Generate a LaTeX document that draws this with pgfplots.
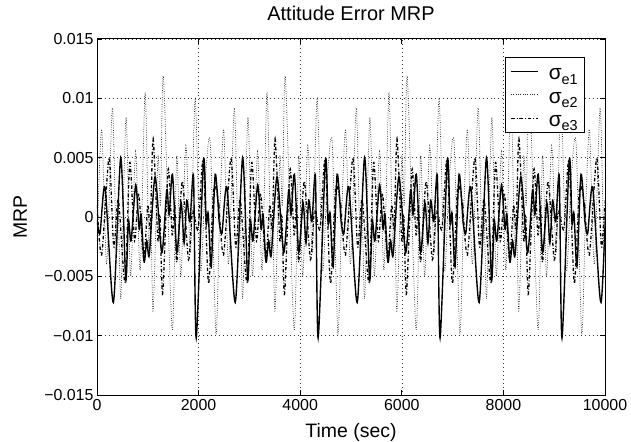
\documentclass[border=0pt]{standalone}
\usepackage{pgfplots}
\pgfplotsset{compat=1.18}
\usepackage{pgfplotstable}
\usepackage{fontspec}
\setmainfont{Liberation Sans}

% one period (2400 s) of each signal; the record repeats with this period
\pgfplotstableread{
t v
0 -0.0002
59 -0.0014
158 0.0025
322 -0.0072
467 0.0050
566 -0.0053
618 -0.0003
671 -0.0020
763 0.0027
830 -0.0010
870 0.0002
927 -0.0038
980 -0.0020
1030 -0.0032
1144 0.0034
1276 -0.0030
1374 0.0023
1420 0.0002
1486 0.0036
1571 -0.0030
1656 0.0012
1715 -0.0022
1768 0.0014
1830 -0.0004
1900 0.0034
1953 -0.0102
2097 0.0048
2150 -0.0005
2190 0.0003
2248 -0.0042
2327 0.0036
2400 -0.0002
}\eone

\pgfplotstableread{
t v
0 -0.0020
92 0.0074
190 -0.0040
303 0.0092
380 -0.0030
420 0.0005
470 -0.0068
572 0.0084
660 -0.0050
760 0.0055
850 -0.0045
947 0.0105
1020 -0.0030
1060 0.0000
1105 -0.0079
1200 0.0050
1250 0.0010
1308 0.0118
1480 -0.0095
1571 0.0052
1650 -0.0050
1750 0.0060
1840 -0.0030
1933 0.0099
2040 -0.0045
2130 0.0030
2229 0.0063
2340 -0.0098
2400 -0.0020
}\etwo

\pgfplotstableread{
t v
0 0.0010
92 -0.0032
237 0.0050
330 -0.0025
420 0.0015
552 -0.0055
645 0.0046
740 -0.0020
820 0.0020
920 -0.0035
1000 0.0010
1050 -0.0010
1105 0.0066
1200 -0.0020
1240 0.0000
1292 -0.0065
1400 0.0040
1480 -0.0015
1530 0.0010
1571 -0.0038
1680 0.0030
1801 -0.0036
1880 0.0005
1990 -0.0010
2090 0.0048
2195 -0.0056
2300 0.0025
2400 0.0010
}\ethree

\tikzset{
  sone/.style={black, line width=1.4pt, solid, smooth, tension=0.45},
  stwo/.style={black!85, line width=0.75pt, dash pattern=on 0.75pt off 1.6pt, smooth, tension=0.45},
  sthree/.style={black, line width=1.3pt, dash pattern=on 3.5pt off 2pt on 0.8pt off 2pt, smooth, tension=0.45},
}

\newcommand{\lsig}[1]{\rule[-9bp]{0pt}{27bp}σ\raisebox{-0.4ex}{\fontsize{14.5}{14.5}\selectfont #1}}

\begin{document}
\begin{tikzpicture}
\begin{axis}[
  name=ax,
  scale only axis,
  width=508bp, height=356bp,
  xmin=0, xmax=10000, ymin=-0.015, ymax=0.015,
  xtick={0,2000,4000,6000,8000,10000},
  xticklabels={0,2000,4000,6000,8000,10000},
  ytick={-0.015,-0.01,-0.005,0,0.005,0.01,0.015},
  yticklabels={−0.015,−0.01,−0.005,0,0.005,0.01,0.015},
  scaled ticks=false,
  tick align=inside,
  major tick length=5bp,
  tick style={black, line width=0.7pt},
  axis line style={black, line width=1pt},
  grid=major,
  major grid style={black!80, line width=0.45pt, dash pattern=on 0.45pt off 3.5pt},
  ticklabel style={font=\fontsize{16}{19}\selectfont},
  xticklabel style={anchor=base, yshift=-15bp},
  title={Attitude Error MRP},
  title style={at={(axis description cs:0.5,1.0365)}, anchor=base, font=\fontsize{20}{24}\selectfont},
  xlabel={Time (sec)},
  xlabel style={at={(axis description cs:0.5,-0.118)}, anchor=base, font=\fontsize{19.5}{23}\selectfont},
  ylabel={MRP},
  ylabel style={at={(axis description cs:-0.1378,0.5)}, anchor=base, font=\fontsize{19.5}{23}\selectfont},
  legend entries={\lsig{e1},\lsig{e2},\lsig{e3}},
  legend style={at={(0.961,0.949)}, anchor=north east, draw=black, line width=0.9pt,
    font=\fontsize{21}{23}\selectfont, cells={anchor=west}, row sep=0pt,
    inner xsep=5bp, inner ysep=2bp,
    /tikz/every odd column/.append style={column sep=8bp}},
  legend image code/.code={\draw[#1] (0bp,0bp) -- (27bp,0bp);},
]
\addplot[sone] table[x=t, y=v] {\eone};
\addplot[sone, forget plot] table[x expr=\thisrow{t}+2400, y=v] {\eone};
\addplot[sone, forget plot] table[x expr=\thisrow{t}+4800, y=v] {\eone};
\addplot[sone, forget plot] table[x expr=\thisrow{t}+7200, y=v] {\eone};
\addplot[sone, forget plot] table[x expr=\thisrow{t}+9600, y=v] {\eone};

\addplot[stwo] table[x=t, y=v] {\etwo};
\addplot[stwo, forget plot] table[x expr=\thisrow{t}+2400, y=v] {\etwo};
\addplot[stwo, forget plot] table[x expr=\thisrow{t}+4800, y=v] {\etwo};
\addplot[stwo, forget plot] table[x expr=\thisrow{t}+7200, y=v] {\etwo};
\addplot[stwo, forget plot] table[x expr=\thisrow{t}+9600, y=v] {\etwo};

\addplot[sthree] table[x=t, y=v] {\ethree};
\addplot[sthree, forget plot] table[x expr=\thisrow{t}+2400, y=v] {\ethree};
\addplot[sthree, forget plot] table[x expr=\thisrow{t}+4800, y=v] {\ethree};
\addplot[sthree, forget plot] table[x expr=\thisrow{t}+7200, y=v] {\ethree};
\addplot[sthree, forget plot] table[x expr=\thisrow{t}+9600, y=v] {\ethree};
\end{axis}
\pgfresetboundingbox
\path ([xshift=-97bp,yshift=-47bp]ax.south west) rectangle ([xshift=26bp,yshift=39bp]ax.north east);
\end{tikzpicture}
\end{document}
